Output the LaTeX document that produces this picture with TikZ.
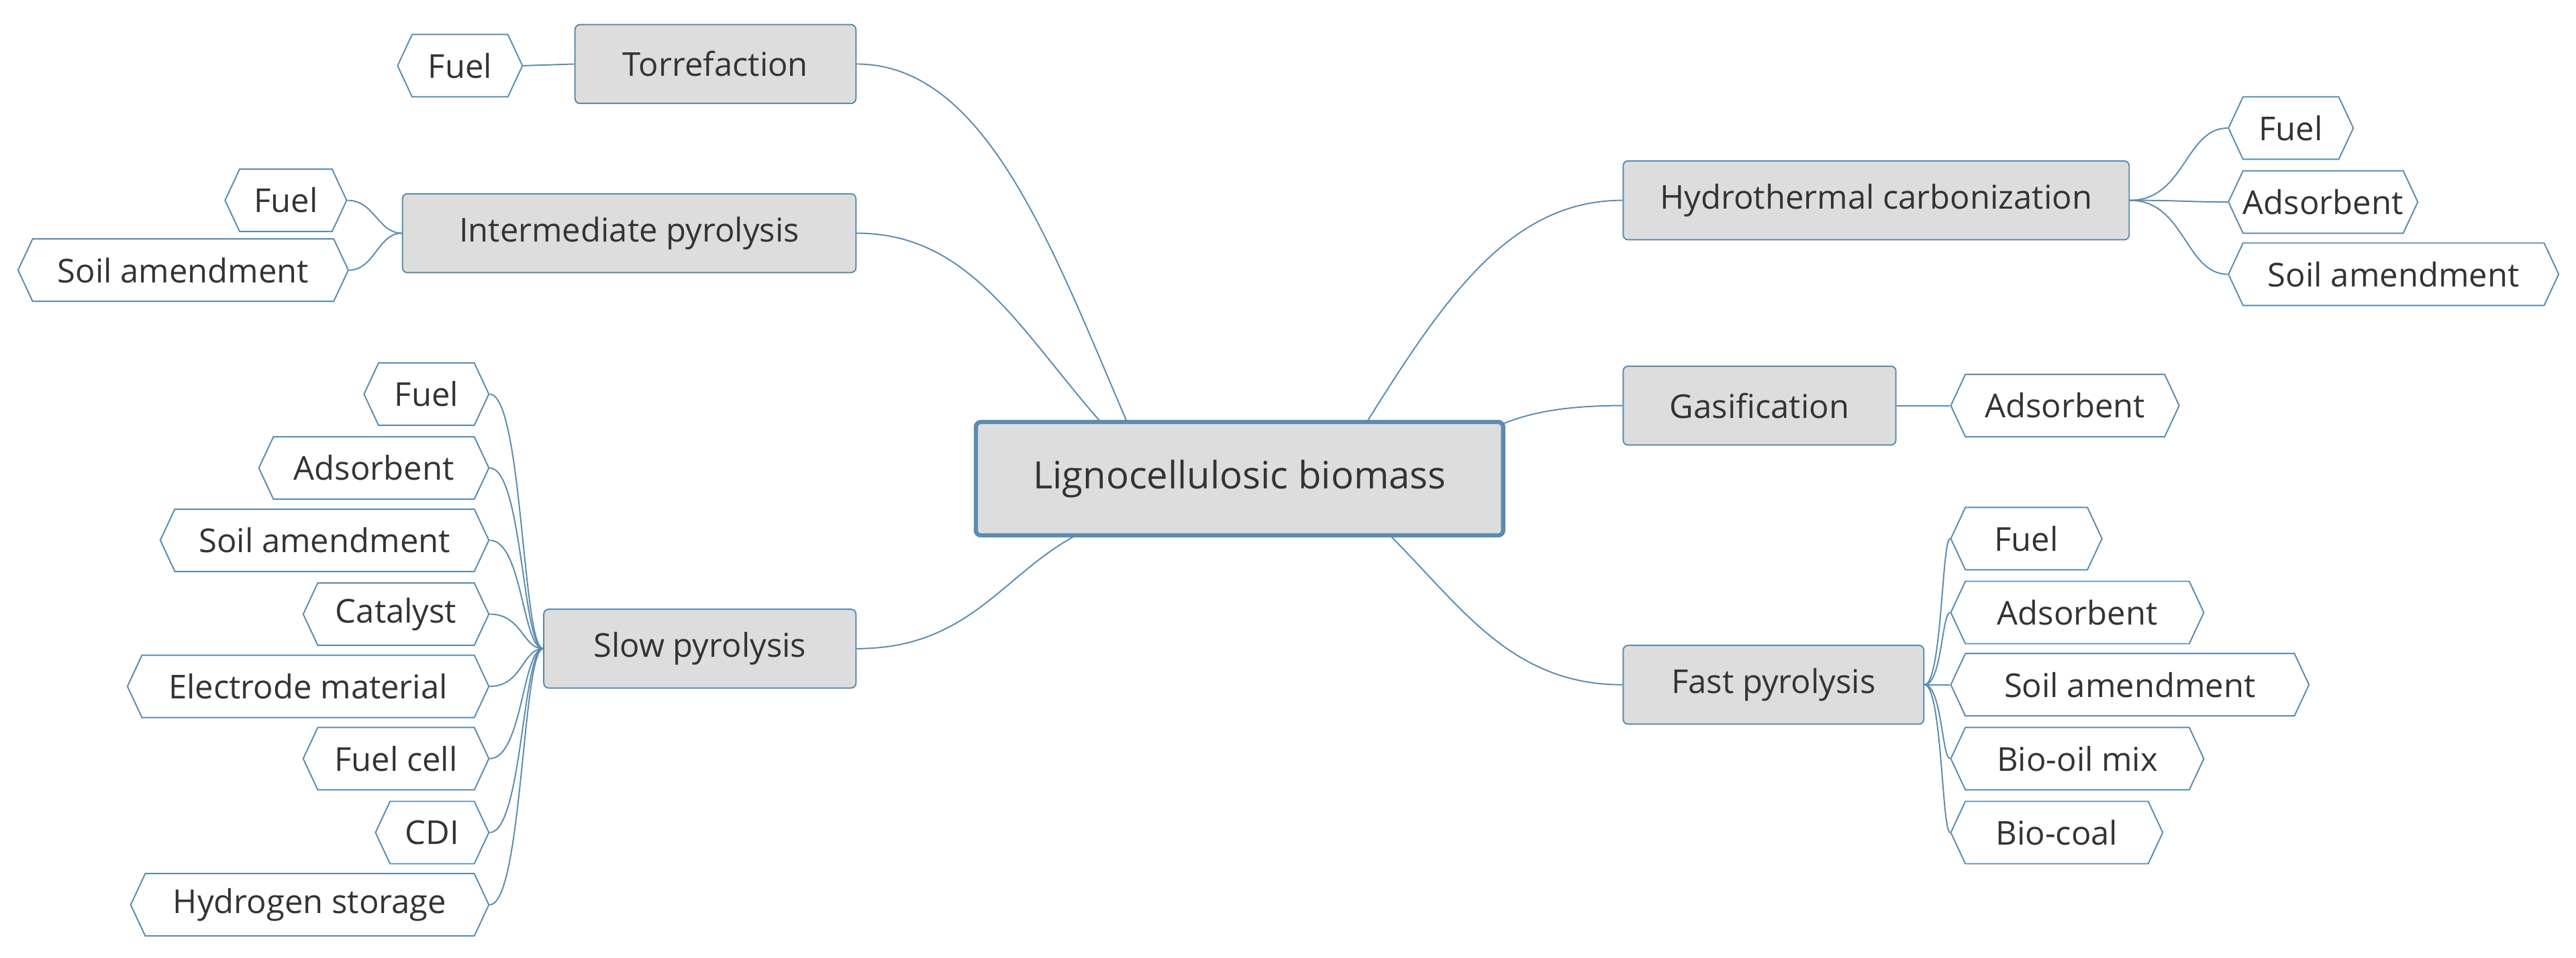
\documentclass[tikz,border=0pt]{standalone}
\usepackage{fontspec}
\setmainfont{Open Sans}
\usetikzlibrary{shapes.symbols}
\definecolor{bl}{HTML}{5A8CB0}
\definecolor{gf}{HTML}{DDDDDD}
\definecolor{tx}{HTML}{333333}
\begin{document}
\begin{tikzpicture}[x=1pt,y=-1pt,
  root/.style={draw=bl,line width=2.6pt,fill=gf,rounded corners=3pt,minimum width=321pt,minimum height=69pt,font=\fontsize{23}{27}\selectfont,text=tx,inner sep=0pt},
  par/.style={draw=bl,line width=0.8pt,fill=gf,rounded corners=3pt,minimum height=48pt,font=\fontsize{20}{24}\selectfont,text=tx,inner sep=0pt},
  leaf/.style={draw=bl,line width=0.8pt,fill=white,signal,signal to=west and east,signal pointer angle=130,minimum height=38pt,font=\fontsize{20}{24}\selectfont,text=tx,inner sep=0pt},
  con/.style={draw=bl,line width=0.8pt}]
\useasboundingbox (0,0) rectangle (1568,583);
\node[root] (c) at (754.5,291.5) {Lignocellulosic biomass};
\node[par,minimum width=171pt] (tor) at (435.5,39) {Torrefaction};
\node[par,minimum width=276pt] (int) at (383,142) {Intermediate pyrolysis};
\node[par,minimum width=190pt] (slow) at (426,395) {Slow pyrolysis};
\node[par,minimum width=308pt] (hyd) at (1142,122) {Hydrothermal carbonization};
\node[par,minimum width=166pt] (gas) at (1071,247) {Gasification};
\node[par,minimum width=183pt] (fast) at (1079.5,417) {Fast pyrolysis};
% leaves
\node[leaf,minimum width=76pt] (t1) at (280,40) {Fuel};
\node[leaf,minimum width=74pt] (i1) at (174,122) {Fuel};
\node[leaf,minimum width=201pt] (i2) at (111.5,164.5) {Soil amendment};
\foreach \n/\l/\t/\y in {s1/222/Fuel/240,s2/158/Adsorbent/285,s3/98/Soil amendment/329,s4/185/Catalyst/374,s5/78/Electrode material/418,s6/185/Fuel cell/462,s7/229/CDI/507,s8/80/Hydrogen storage/551}{
  \pgfmathsetmacro\w{298-\l}
  \node[leaf,minimum width=\w pt,anchor=east] (\n) at (298,\y) {\t};
  \draw[con] (slow.west) .. controls (318,395) and (318,\y) .. (\n.east);
}
\foreach \n/\r/\t/\y in {h1/1432/Fuel/78,h2/1468/Adsorbent/123,h3/1557/Soil amendment/167}{
  \pgfmathsetmacro\w{\r-1356}
  \node[leaf,minimum width=\w pt,anchor=west] (\n) at (1356,\y) {\t};
  \draw[con] (hyd.east) .. controls (1330,122) and (1330,\y) .. (\n.west);
}
\node[leaf,minimum width=139pt,anchor=west] (g1) at (1187,247) {Adsorbent};
\foreach \n/\r/\t/\y in {f1/1279/Fuel/328,f2/1341/Adsorbent/373,f3/1405/Soil amendment/417,f4/1341/Bio-oil mix/462,f5/1316/Bio-coal/507}{
  \pgfmathsetmacro\w{\r-1187}
  \node[leaf,minimum width=\w pt,anchor=west] (\n) at (1187,\y) {\t};
  \draw[con] (fast.east) .. controls (1182,417) and (1182,\y) .. (\n.west);
}
\draw[con] (t1.east) -- (tor.west);
\draw[con] (int.west) .. controls (230,142) and (228,122) .. (i1.east);
\draw[con] (int.west) .. controls (230,142) and (228,164.5) .. (i2.east);
\draw[con] (gas.east) -- (g1.west);
% root connectors
\coordinate (ct) at (686,257);
\coordinate (ci) at (670,257);
\coordinate (cs) at (655,326);
\coordinate (ch) at (832,257);
\coordinate (cg) at (915,258);
\coordinate (cf) at (846,326);
\draw[con] (tor.east) .. controls (600,39) and (640,150) .. (ct);
\draw[con] (int.east) .. controls (590,142) and (620,200) .. (ci);
\draw[con] (slow.east) .. controls (590,395) and (610,350) .. (cs);
\draw[con] (hyd.west) .. controls (920,122) and (880,180) .. (ch);
\draw[con] (gas.west) .. controls (950,247) and (930,252) .. (cg);
\draw[con] (fast.west) .. controls (920,417) and (890,370) .. (cf);
\end{tikzpicture}
\end{document}
